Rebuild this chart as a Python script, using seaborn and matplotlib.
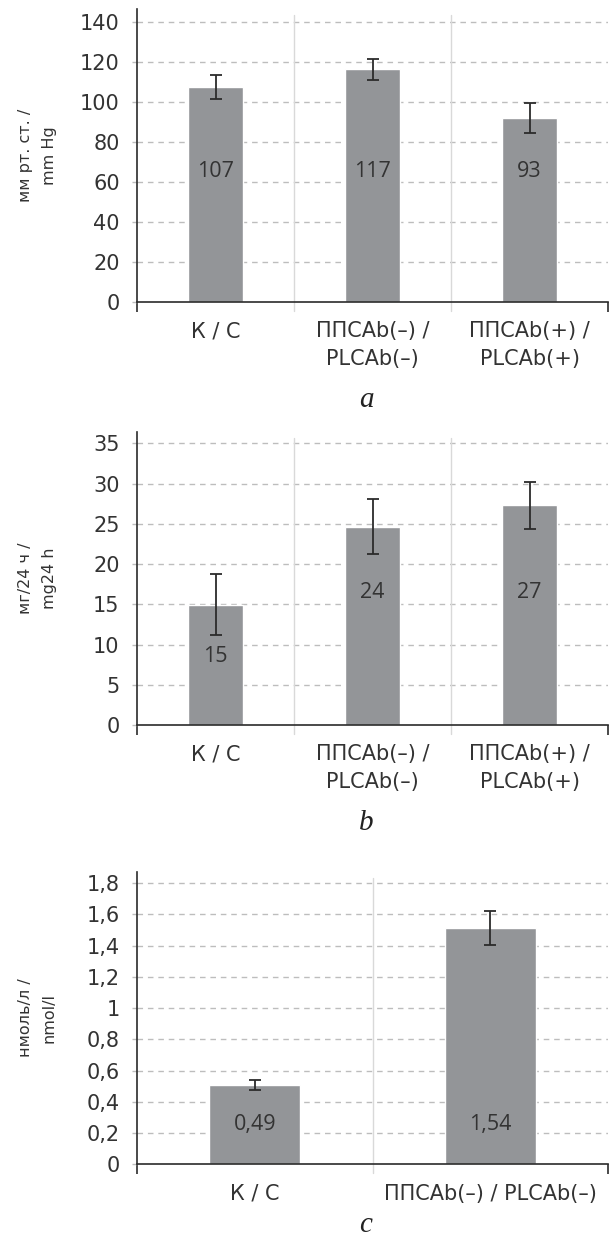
import matplotlib
matplotlib.use("Agg")
import matplotlib.pyplot as plt
import seaborn as sns
from matplotlib import font_manager

# panel a: blood pressure
cats_a = ["К / C", "ППСAb(–) /\nPLCAb(–)", "ППСAb(+) /\nPLCAb(+)"]
vals_a = [107.4, 116.3, 91.9]
err_a = [6.2, 5.3, 7.7]
text_a = ["107", "117", "93"]
ylab_a = "мм рт. ст. /\nmm Hg"
yticks_a = [0, 20, 40, 60, 80, 100, 120, 140]

# panel b: daily protein
cats_b = ["К / C", "ППСAb(–) /\nPLCAb(–)", "ППСAb(+) /\nPLCAb(+)"]
vals_b = [14.95, 24.65, 27.3]
err_b = [3.75, 3.45, 2.95]
text_b = ["15", "24", "27"]
ylab_b = "мг/24 ч /\nmg24 h"
yticks_b = [0, 5, 10, 15, 20, 25, 30, 35]

# panel c: concentration
cats_c = ["К / C", "ППСAb(–) / PLCAb(–)"]
vals_c = [0.508, 1.514]
err_c = [0.031, 0.108]
text_c = ["0,49", "1,54"]
ylab_c = "нмоль/л /\nnmol/l"
yticks_c = [0, 0.2, 0.4, 0.6, 0.8, 1.0, 1.2, 1.4, 1.6, 1.8]
ytick_lbl_c = ["0", "0,2", "0,4", "0,6", "0,8", "1", "1,2", "1,4", "1,6", "1,8"]

BAR = "#939598"
TXT = "#333333"
GRID = "#bdbdbd"

sns.set_theme(style="white")
plt.rcParams["font.family"] = ["DejaVu Sans"]

# narrow font for the values inside the bars, if there is one
try:
    font_manager.findfont("Liberation Sans Narrow", fallback_to_default=False)
    VAL_FONT, VAL_SIZE = ["Liberation Sans Narrow", "DejaVu Sans"], 17
except ValueError:
    VAL_FONT, VAL_SIZE = ["Open Sans", "DejaVu Sans"], 15.5

fig = plt.figure(figsize=(6.13, 12.36), dpi=100)
W, H = 613, 1236
left_px, right_px = 137, 608


def make_panel(bottom_px, top_px, cats, vals, errs, texts, ylab, yticks, ytop,
               width, label_y, letter, letter_px, ticklabels=None):
    ax = fig.add_axes([left_px / W, 1 - bottom_px / H,
                       (right_px - left_px) / W, (bottom_px - top_px) / H])
    n = len(cats)
    sns.barplot(x=cats, y=vals, color=BAR, width=width, errorbar=None,
                saturation=1, ax=ax, zorder=2)
    ax.errorbar(range(n), vals, yerr=errs, fmt="none", ecolor="#2b2b2b",
                elinewidth=1.3, capsize=4, capthick=1.3, zorder=3)
    for i, t in enumerate(texts):
        ax.text(i, label_y[i], t, ha="center", va="center", fontsize=VAL_SIZE,
                color=TXT, family=VAL_FONT, zorder=4)

    ax.set_xlim(-0.5, n - 0.5)
    ax.set_ylim(0, ytop)
    ax.set_yticks(yticks)
    if ticklabels is not None:
        ax.set_yticklabels(ticklabels)
    for y in yticks[1:]:
        ax.axhline(y, color=GRID, lw=1, ls=(0, (4, 3.5)), zorder=1)
    for k in range(1, n):
        ax.axvline(k - 0.5, ymin=-0.03, ymax=0.98, color="#d9d9d9", lw=1,
                   clip_on=False, zorder=1)

    for s in ["top", "right"]:
        ax.spines[s].set_visible(False)
    for s in ["left", "bottom"]:
        ax.spines[s].set_color("#2b2b2b")
        ax.spines[s].set_linewidth(1.2)

    ax.tick_params(axis="y", length=3.5, width=1, color=GRID, pad=9,
                   labelsize=15, labelcolor=TXT, left=True)
    ax.yaxis.get_major_ticks()[0].tick1line.set_color("#2b2b2b")
    ax.tick_params(axis="x", length=0, pad=14, labelsize=15, labelcolor=TXT)
    for lbl in ax.get_xticklabels():
        lbl.set_linespacing(1.45)
    ax.set_xticks([-0.5, n - 0.5], minor=True)
    ax.tick_params(axis="x", which="minor", length=7, width=1.2,
                   color="#2b2b2b", bottom=True)
    ax.set_xlabel("")
    ax.set_ylabel("")

    mid = 1 - (bottom_px + top_px) / 2 / H
    fig.text(37.5 / W, mid, ylab, rotation=90, ha="center", va="center",
             multialignment="center", fontsize=11.5, color=TXT, linespacing=1.7)

    fig.text(366 / W, 1 - letter_px / H, letter,
             ha="center", va="baseline", fontsize=21, style="italic",
             family="Liberation Serif", color="#222222")
    return ax


make_panel(302, 9.3, cats_a, vals_a, err_a, text_a, ylab_a, yticks_a, 146.2,
           0.355, [65, 65, 65], "a", 407)
make_panel(725, 432, cats_b, vals_b, err_b, text_b, ylab_b, yticks_b, 36.4,
           0.355, [8.5, 16.4, 16.4], "b", 830)
make_panel(1164.3, 871.7, cats_c, vals_c, err_c, text_c, ylab_c, yticks_c, 1.874,
           0.385, [0.258, 0.258], "c", 1232, ticklabels=ytick_lbl_c)

fig.savefig("out.png", dpi=100)
